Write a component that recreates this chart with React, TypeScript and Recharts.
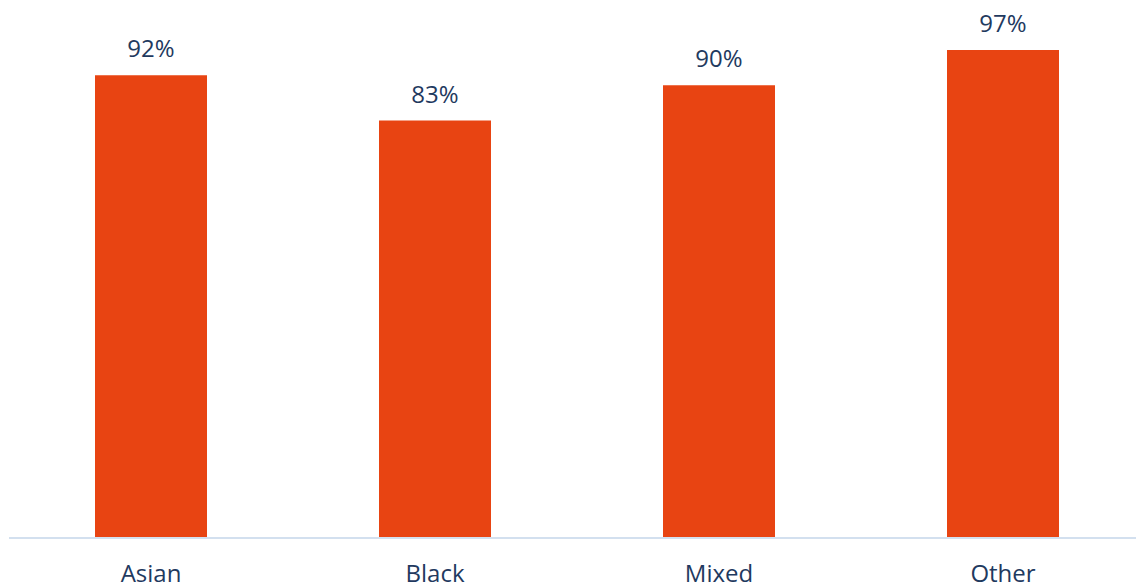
import React from "react";
import { BarChart, Bar, XAxis, YAxis, LabelList } from "recharts";

const categories = ["Asian", "Black", "Mixed", "Other"];
const values = [92, 83, 90, 97];

const data = categories.map((c, i) => ({ name: c, value: values[i] }));

const FONT = "'Open Sans', 'Segoe UI', sans-serif";
const TEXT = "#1F3A5F";

export default function App() {
  return (
    <div style={{ position: "absolute", left: 0, top: 0, width: 1136, height: 585, overflow: "hidden", background: "#fff" }}>
      <BarChart
        width={1150}
        height={585}
        data={data}
        margin={{ top: 35, right: 5, bottom: 0, left: 9 }}
        barCategoryGap={86}
      >
        <XAxis
          dataKey="name"
          height={47}
          axisLine={{ stroke: "#D3E0EF", strokeWidth: 2 }}
          tickLine={false}
          tickSize={0}
          tickMargin={27}
          tick={{ fill: TEXT, fontSize: 24, fontFamily: FONT }}
          interval={0}
        />
        <YAxis hide domain={[0, 100]} />
        <Bar dataKey="value" fill="#E84412" barSize={112} isAnimationActive={false}>
          <LabelList
            dataKey="value"
            position="top"
            offset={18}
            formatter={(v: number) => `${v}%`}
            style={{ fill: TEXT, fontSize: 24, fontFamily: FONT }}
          />
        </Bar>
      </BarChart>
    </div>
  );
}
